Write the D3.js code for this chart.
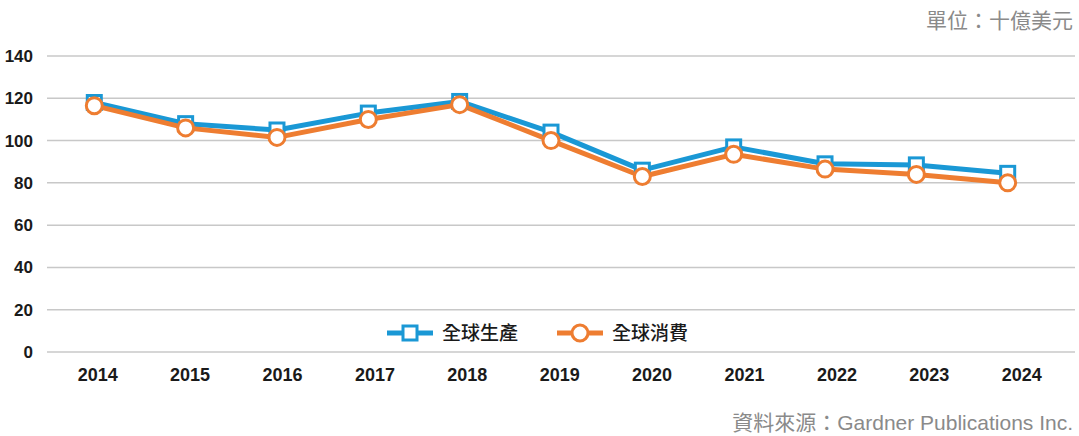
<!DOCTYPE html>
<html>
<head>
<meta charset="utf-8">
<script src="https://cdn.jsdelivr.net/npm/d3@7"></script>
<style>
body { margin: 0; background: #fff; }
svg text { font-family: "Liberation Sans", Arial, sans-serif; }
.cjk { font-family: "Noto Sans CJK TC", "Noto Sans CJK SC", sans-serif; }
</style>
</head>
<body>
<svg id="myGraph" width="1079" height="436"></svg>
<script>
var years = ["2014","2015","2016","2017","2018","2019","2020","2021","2022","2023","2024"];
var production = [118, 108, 105, 113, 118.5, 104, 86, 97, 89, 88.5, 84.5];
var consumption = [116.5, 106, 101.5, 110, 117, 100, 83, 93.5, 86.5, 84, 80];
var yTicks = [0, 20, 40, 60, 80, 100, 120, 140];
var seriesNames = ["全球生產", "全球消費"];

var blue = "#1a98d5";
var orange = "#ee7d31";

var svg = d3.select("#myGraph");

// y: 0 -> 352, 140 -> 56
var yScale = d3.scaleLinear().domain([0, 140]).range([352, 56]);
// points sit on a slightly narrower spacing than the labels in the original
var xScale = d3.scalePoint().domain(years).range([94.3, 1007.7]);
var xLabel = d3.scaleBand().domain(years).range([51.5, 1067.9]);

// gridlines
svg.append("g")
	.selectAll("line")
	.data(yTicks)
	.join("line")
	.attr("x1", 47).attr("x2", 1075)
	.attr("y1", function(d){ return yScale(d); })
	.attr("y2", function(d){ return yScale(d); })
	.attr("stroke", "#c8c8c8")
	.attr("stroke-width", 1.5);

// y axis labels
var yAxis = d3.axisLeft(yScale).tickValues(yTicks).tickSize(0).tickPadding(0);
svg.append("g")
	.attr("transform", "translate(33,0)")
	.call(yAxis)
	.call(function(g){ g.select(".domain").remove(); })
	.selectAll("text")
	.attr("font-family", "Liberation Sans, Arial, sans-serif")
	.attr("font-size", 17)
	.attr("font-weight", "bold")
	.attr("fill", "#1a1a1a");

// x axis labels
var xAxis = d3.axisBottom(xLabel).tickSize(0).tickPadding(0);
svg.append("g")
	.attr("transform", "translate(0,368)")
	.call(xAxis)
	.call(function(g){ g.select(".domain").remove(); })
	.selectAll("text")
	.attr("font-family", "Liberation Sans, Arial, sans-serif")
	.attr("font-size", 18)
	.attr("font-weight", "bold")
	.attr("fill", "#1a1a1a");

var line = d3.line()
	.x(function(d, i){ return xScale(years[i]); })
	.y(function(d){ return yScale(d); });

svg.append("path")
	.attr("d", line(production))
	.attr("fill", "none")
	.attr("stroke", blue)
	.attr("stroke-width", 5)
	.attr("stroke-linejoin", "round");

svg.append("path")
	.attr("d", line(consumption))
	.attr("fill", "none")
	.attr("stroke", orange)
	.attr("stroke-width", 5)
	.attr("stroke-linejoin", "round");

svg.append("g")
	.selectAll("rect")
	.data(production)
	.join("rect")
	.attr("x", function(d, i){ return xScale(years[i]) - 7; })
	.attr("y", function(d){ return yScale(d) - 7; })
	.attr("width", 14).attr("height", 14)
	.attr("fill", "#fff")
	.attr("stroke", blue)
	.attr("stroke-width", 3);

svg.append("g")
	.selectAll("circle")
	.data(consumption)
	.join("circle")
	.attr("cx", function(d, i){ return xScale(years[i]); })
	.attr("cy", function(d){ return yScale(d); })
	.attr("r", 8)
	.attr("fill", "#fff")
	.attr("stroke", orange)
	.attr("stroke-width", 3);

// legend
var legendX = [387, 557];
var legend = svg.append("g");
seriesNames.forEach(function(name, i){
	var g = legend.append("g").attr("transform", "translate(" + legendX[i] + ",333)");
	var c = i === 0 ? blue : orange;
	g.append("line").attr("x1", 0).attr("x2", 46).attr("y1", 0).attr("y2", 0)
		.attr("stroke", c).attr("stroke-width", 5);
	if (i === 0) {
		g.append("rect").attr("x", 16).attr("y", -7).attr("width", 14).attr("height", 14)
			.attr("fill", "#fff").attr("stroke", c).attr("stroke-width", 3);
	} else {
		g.append("circle").attr("cx", 23).attr("cy", 0).attr("r", 8)
			.attr("fill", "#fff").attr("stroke", c).attr("stroke-width", 3);
	}
	g.append("text")
		.attr("class", "cjk")
		.attr("x", 55).attr("y", 0)
		.attr("dy", "0.36em")
		.attr("font-size", 19)
		.attr("font-weight", 500)
		.attr("fill", "#1a1a1a")
		.text(name);
});

// unit and source
svg.append("text")
	.attr("class", "cjk")
	.attr("x", 1073).attr("y", 28)
	.attr("text-anchor", "end")
	.attr("font-size", 21)
	.attr("fill", "#8a8a8a")
	.text("單位：十億美元");

var src = svg.append("text")
	.attr("x", 1073).attr("y", 430)
	.attr("text-anchor", "end")
	.attr("font-size", 21)
	.attr("fill", "#8a8a8a");
src.append("tspan").attr("class", "cjk").text("資料來源：");
src.append("tspan").text("Gardner Publications Inc.");
</script>
</body>
</html>
